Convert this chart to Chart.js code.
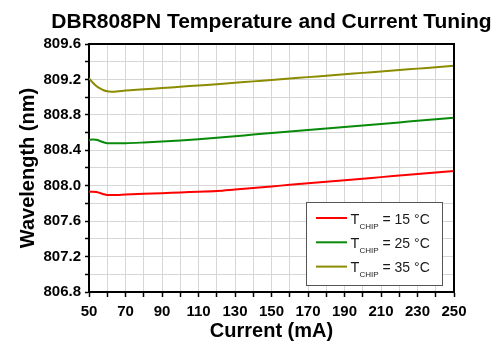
<!DOCTYPE html>
<html>
<head>
<meta charset="utf-8">
<script src="https://cdn.jsdelivr.net/npm/chart.js@4"></script>
<style>
	html, body { margin: 0; padding: 0; background: #fff; }
	#wrap { width: 493px; height: 343px; }
</style>
</head>
<body>
<div id="wrap"><canvas id="chart"></canvas></div>
<script>
const chartTitle = 'DBR808PN Temperature and Current Tuning';
const xTitle = 'Current (mA)';
const yTitle = 'Wavelength (nm)';

const currentMA = [50, 52, 54, 56, 58, 60, 62, 65, 70, 80, 90, 100, 110, 120, 130, 140, 150, 160, 170, 180, 190, 200, 210, 220, 230, 240, 250];
const wavelength15 = [807.932, 807.932, 807.930, 807.918, 807.904, 807.895, 807.894, 807.895, 807.900, 807.908, 807.916, 807.924, 807.932, 807.940, 807.957, 807.975, 807.992, 808.010, 808.027, 808.044, 808.062, 808.079, 808.097, 808.114, 808.131, 808.149, 808.166];
const wavelength25 = [808.516, 808.522, 808.520, 808.505, 808.490, 808.480, 808.479, 808.479, 808.480, 808.488, 808.498, 808.510, 808.525, 808.542, 808.559, 808.577, 808.594, 808.611, 808.629, 808.646, 808.663, 808.681, 808.698, 808.715, 808.733, 808.750, 808.768];
const wavelength35 = [809.213, 809.165, 809.125, 809.098, 809.078, 809.066, 809.062, 809.064, 809.074, 809.088, 809.103, 809.117, 809.132, 809.146, 809.162, 809.178, 809.194, 809.210, 809.226, 809.242, 809.258, 809.274, 809.290, 809.306, 809.322, 809.338, 809.355];
const chipTemps = ['15 °C', '25 °C', '35 °C'];
const lineColors = ['#ff0000', '#0a8a0a', '#8c8c00'];

const FONT = "'Liberation Sans', Arial, sans-serif";

const toPoints = (ys) => currentMA.map((x, i) => ({x, y: ys[i]}));

// title centred over the plot area, box round the plot, legend with subscripts
const decorations = {
	id: 'decorations',
	afterDraw(chart) {
		const {ctx, chartArea: a} = chart;
		ctx.save();

		ctx.fillStyle = '#000';
		ctx.font = 'bold 21px ' + FONT;
		ctx.textAlign = 'center';
		ctx.textBaseline = 'middle';
		ctx.fillText(chartTitle, (a.left + a.right) / 2, 22);

		ctx.strokeStyle = '#000';
		ctx.lineWidth = 2;
		ctx.beginPath();
		ctx.moveTo(a.left, a.top);
		ctx.lineTo(a.right, a.top);
		ctx.lineTo(a.right, a.bottom);
		ctx.stroke();

		const bx = a.right - 147.5, by = a.bottom - 89.5, bw = 136, bh = 83;
		ctx.fillStyle = '#fff';
		ctx.fillRect(bx, by, bw, bh);
		ctx.strokeStyle = '#555';
		ctx.lineWidth = 1;
		ctx.strokeRect(bx, by, bw, bh);

		ctx.textAlign = 'left';
		ctx.textBaseline = 'alphabetic';
		chart.data.datasets.forEach((ds, i) => {
			const y = by + 15.5 + i * 24.3;
			ctx.strokeStyle = ds.borderColor;
			ctx.lineWidth = 2;
			ctx.beginPath();
			ctx.moveTo(bx + 9.5, y);
			ctx.lineTo(bx + 40.5, y);
			ctx.stroke();

			ctx.fillStyle = '#1a1a1a';
			ctx.font = '14.5px ' + FONT;
			ctx.fillText('T', bx + 44, y + 5.5);
			ctx.font = '8px ' + FONT;
			ctx.fillText('CHIP', bx + 53, y + 10.5);
			ctx.font = '14px ' + FONT;
			ctx.fillText('= ' + chipTemps[i], bx + 76, y + 5.5);
		});

		ctx.restore();
	}
};

new Chart(document.getElementById('chart'), {
	type: 'line',
	data: {
		datasets: [
			{label: 'T_CHIP = ' + chipTemps[0], data: toPoints(wavelength15), borderColor: lineColors[0]},
			{label: 'T_CHIP = ' + chipTemps[1], data: toPoints(wavelength25), borderColor: lineColors[1]},
			{label: 'T_CHIP = ' + chipTemps[2], data: toPoints(wavelength35), borderColor: lineColors[2]}
		]
	},
	options: {
		responsive: true,
		maintainAspectRatio: false,
		animation: false,
		layout: {padding: {top: 44, right: 39, bottom: 0, left: 0}},
		elements: {
			point: {radius: 0},
			line: {borderWidth: 2, cubicInterpolationMode: 'monotone', fill: false}
		},
		plugins: {
			legend: {display: false},
			title: {display: false},
			tooltip: {enabled: false}
		},
		scales: {
			x: {
				type: 'linear',
				min: 50,
				max: 250,
				afterFit: (scale) => { scale.height = 51; },
				border: {color: '#000', width: 2},
				grid: {color: '#d6d6d6', lineWidth: 1, tickColor: '#000', tickLength: 5, tickWidth: 1.5},
				ticks: {
					stepSize: 10,
					autoSkip: false,
					maxRotation: 0,
					padding: 6,
					color: '#000',
					font: {family: FONT, size: 15, weight: 'bold'},
					callback: (v) => (v - 50) % 20 === 0 ? String(v) : ''
				},
				title: {
					display: true,
					text: xTitle,
					color: '#000',
					font: {family: FONT, size: 20, weight: 'bold'},
					padding: {top: 0, bottom: 0}
				}
			},
			y: {
				min: 806.8,
				max: 809.6,
				afterFit: (scale) => { scale.width = 89; },
				border: {color: '#000', width: 2},
				grid: {color: '#d6d6d6', lineWidth: 1, tickColor: '#000', tickLength: 4, tickWidth: 1.5},
				ticks: {
					stepSize: 0.2,
					autoSkip: false,
					padding: 4,
					color: '#000',
					font: {family: FONT, size: 15, weight: 'bold'},
					callback: (v) => Math.round(v * 10) % 4 === 0 ? v.toFixed(1) : ''
				},
				title: {
					display: true,
					text: yTitle,
					color: '#000',
					font: {family: FONT, size: 20, weight: 'bold'},
					padding: {top: 16, bottom: 0}
				}
			}
		}
	},
	plugins: [decorations]
});
</script>
</body>
</html>
